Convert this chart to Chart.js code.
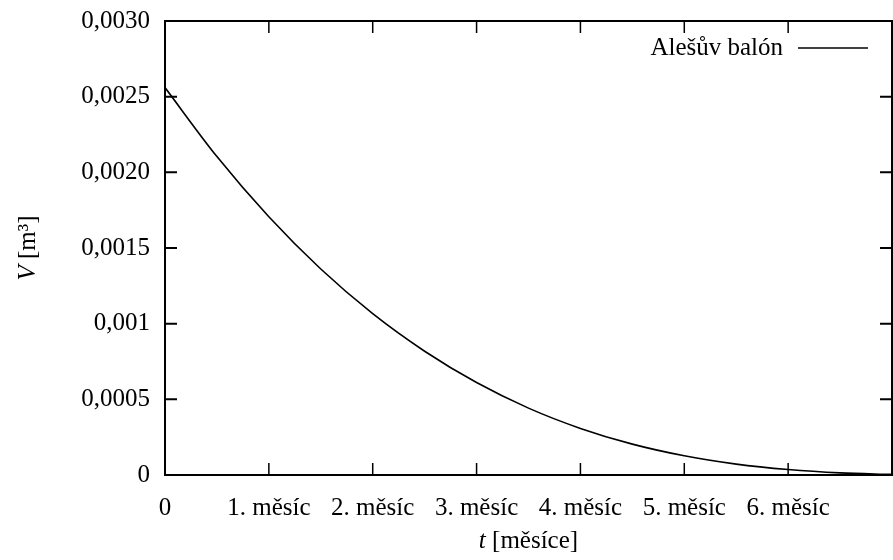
<!DOCTYPE html>
<html>
<head>
<meta charset="utf-8">
<script src="https://cdn.jsdelivr.net/npm/chart.js@4/dist/chart.umd.min.js"></script>
<style>
  html, body { margin: 0; padding: 0; background: #fff; }
  #wrap { width: 893px; height: 560px; position: relative; }
</style>
</head>
<body>
<div id="wrap"><canvas id="c" width="893" height="560"></canvas></div>
<script>
// ---- data ----
const months = [0, 0.5, 1, 1.5, 2, 2.5, 3, 3.5, 4, 4.5, 5, 5.5, 6, 6.5, 7];
const volume = [0.002560, 0.002104, 0.001706, 0.001361, 0.001066, 0.000818, 0.000611, 0.000442, 0.000308, 0.000204, 0.000127, 0.000072, 0.000036, 0.000014, 0.000004];
const seriesLabel = 'Alešův balón';
const xTickLabels = ['0', '1. měsíc', '2. měsíc', '3. měsíc', '4. měsíc', '5. měsíc', '6. měsíc', ''];
const yTickLabels = ['0', '0,0005', '0,001', '0,0015', '0,0020', '0,0025', '0,0030'];
const xTitle = ['t', ' [měsíce]'];
const yTitle = ['V', ' [m³]'];

const FONT = '"Liberation Serif", "Times New Roman", serif';
const FS = 25;

const points = months.map((m, i) => ({ x: m, y: volume[i] }));

const framePlugin = {
  id: 'frame',
  afterDraw(chart) {
    const { ctx, chartArea: a, scales } = chart;
    ctx.save();
    ctx.strokeStyle = '#000';
    ctx.lineWidth = 2;
    ctx.strokeRect(a.left, a.top, a.right - a.left, a.bottom - a.top);
    const TL = 12;
    ctx.lineWidth = 1.5;
    ctx.beginPath();
    scales.x.ticks.forEach(t => {
      const px = scales.x.getPixelForValue(t.value);
      ctx.moveTo(px, a.bottom); ctx.lineTo(px, a.bottom - TL);
      ctx.moveTo(px, a.top); ctx.lineTo(px, a.top + TL);
    });
    ctx.stroke();
    ctx.lineWidth = 2;
    ctx.beginPath();
    scales.y.ticks.forEach(t => {
      const py = scales.y.getPixelForValue(t.value);
      ctx.moveTo(a.left, py); ctx.lineTo(a.left + TL, py);
      ctx.moveTo(a.right, py); ctx.lineTo(a.right - TL, py);
    });
    ctx.stroke();

    // legend (text then line sample, top right)
    const ly = a.top + 27;
    ctx.fillStyle = '#000';
    ctx.font = FS + 'px ' + FONT;
    ctx.textAlign = 'right';
    ctx.textBaseline = 'middle';
    ctx.fillText(chart.data.datasets[0].label, 783, ly);
    ctx.lineWidth = 1.6;
    ctx.beginPath();
    ctx.moveTo(798, ly); ctx.lineTo(868, ly);
    ctx.stroke();

    // axis titles with italic variable
    const drawTitle = (parts, cx, cy, rot) => {
      ctx.save();
      ctx.translate(cx, cy);
      if (rot) ctx.rotate(-Math.PI / 2);
      ctx.textAlign = 'left';
      ctx.textBaseline = 'middle';
      const f1 = 'italic ' + FS + 'px ' + FONT;
      const f2 = FS + 'px ' + FONT;
      ctx.font = f1; const w1 = ctx.measureText(parts[0]).width;
      ctx.font = f2; const w2 = ctx.measureText(parts[1]).width;
      let x = -(w1 + w2) / 2;
      ctx.font = f1; ctx.fillText(parts[0], x, 0);
      ctx.font = f2; ctx.fillText(parts[1], x + w1, 0);
      ctx.restore();
    };
    drawTitle(xTitle, (a.left + a.right) / 2, 541, false);
    drawTitle(yTitle, 28, (a.top + a.bottom) / 2, true);
    ctx.restore();
  }
};

new Chart(document.getElementById('c'), {
  type: 'line',
  data: {
    datasets: [{
      label: seriesLabel,
      data: points,
      borderColor: '#000',
      borderWidth: 1.6,
      pointRadius: 0,
      fill: false,
      cubicInterpolationMode: 'monotone'
    }]
  },
  options: {
    responsive: false,
    animation: false,
    devicePixelRatio: 1,
    layout: { padding: { left: 0, right: 1, top: 21, bottom: 0 } },
    plugins: { legend: { display: false }, tooltip: { enabled: false } },
    scales: {
      x: {
        type: 'linear', min: 0, max: 7,
        grid: { display: false, drawTicks: false },
        border: { display: false },
        afterFit(s) { s.height = 85; s.paddingLeft = 0; s.paddingRight = 0; },
        ticks: {
          stepSize: 1, autoSkip: false, maxRotation: 0, padding: 18,
          color: '#000', font: { family: FONT, size: FS },
          callback: v => xTickLabels[Math.round(v)] ?? ''
        }
      },
      y: {
        type: 'linear', min: 0, max: 0.003,
        grid: { display: false, drawTicks: false },
        border: { display: false },
        afterFit(s) { s.width = 165; s.paddingTop = 0; s.paddingBottom = 0; },
        ticks: {
          stepSize: 0.0005, padding: 15,
          color: '#000', font: { family: FONT, size: FS },
          callback: v => yTickLabels[Math.round(v / 0.0005)] ?? ''
        }
      }
    }
  },
  plugins: [framePlugin]
});
</script>
</body>
</html>
